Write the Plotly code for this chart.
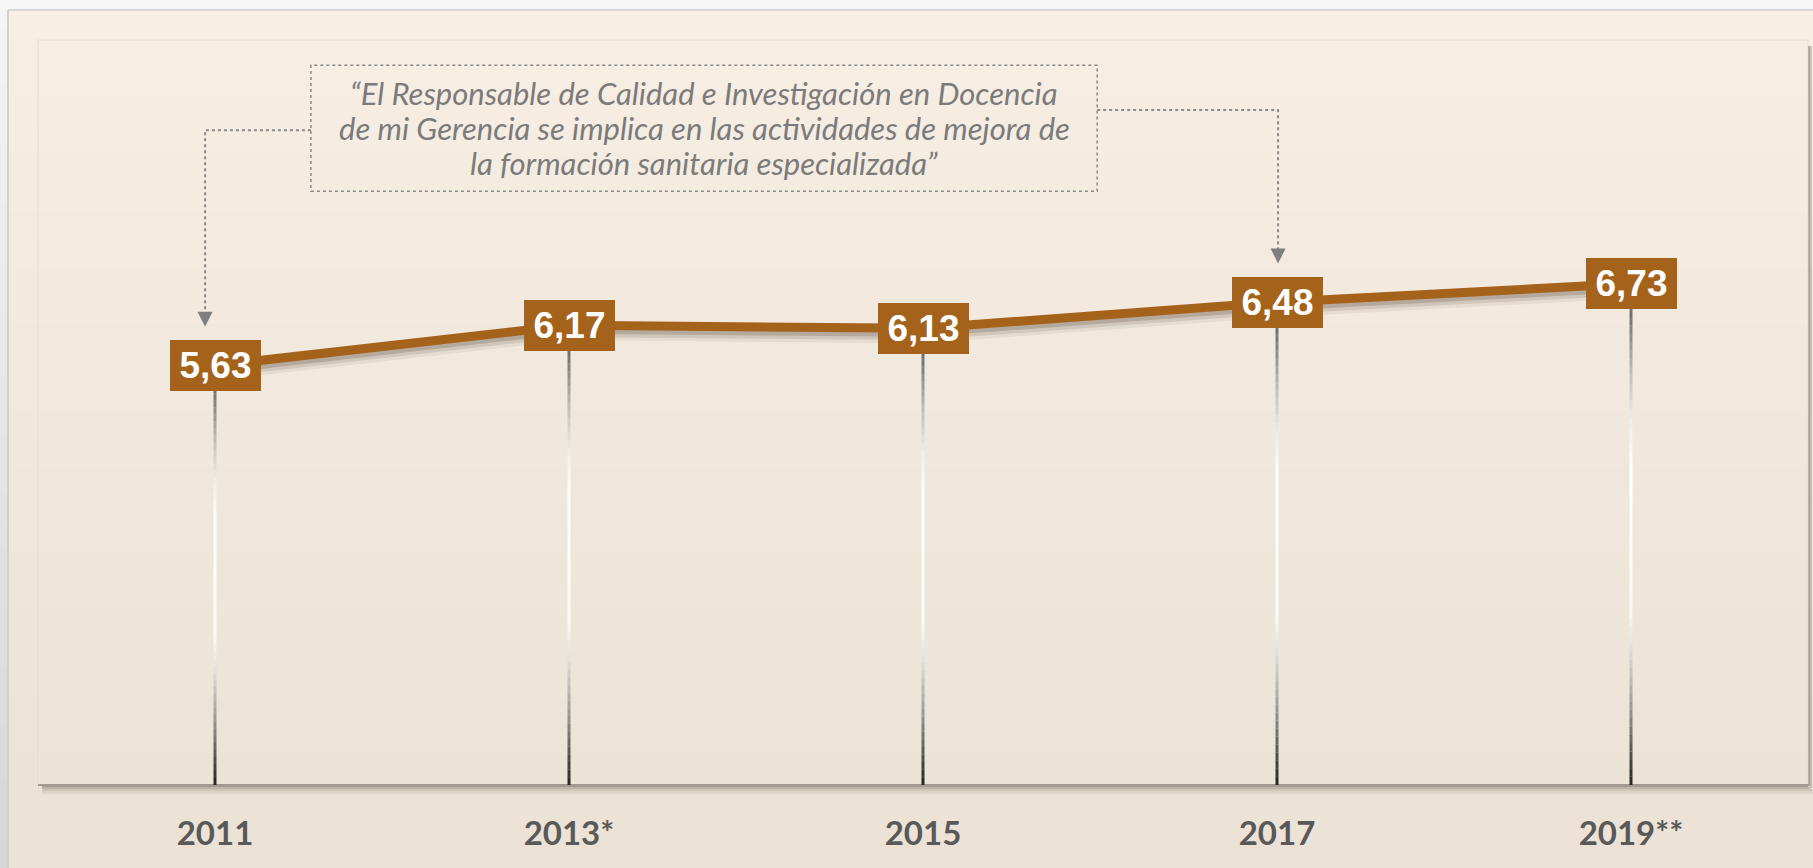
import plotly.graph_objects as go

# ---------------- data ----------------
years = ["2011", "2013*", "2015", "2017", "2019**"]
values = [5.63, 6.17, 6.13, 6.48, 6.73]
value_labels = ["5,63", "6,17", "6,13", "6,48", "6,73"]
quote_lines = [
    "“El Responsable de Calidad e Investigación en Docencia",
    "de mi Gerencia se implica en las actividades de mejora de",
    "la formación sanitaria especializada”",
]
pointed_years = ["2011", "2017"]

# ---------------- layout constants ----------------
W, H = 1813, 868
ML, MR, MT, MB = 38, 5, 40, 83
PW, PH = W - ML - MR, H - MT - MB
BROWN = "#a5621b"
Y_MAX = 10.0
PX_PER_UNIT = PH / Y_MAX

xs = list(range(len(years)))


def px2paper_x(px):
    return (px - ML) / PW


def px2paper_y(py):
    return (H - MB - py) / PH


def lerp(a, b, t):
    return a + (b - a) * t


def hex2rgb(h):
    h = h.lstrip("#")
    return tuple(int(h[i:i + 2], 16) for i in (0, 2, 4))


fig = go.Figure()

# ---------------- gradient stems ----------------
stops = [(0.0, 35), (0.06, 80), (0.15, 150), (0.27, 222), (0.35, 250),
         (0.64, 255), (0.73, 236), (0.83, 185), (0.92, 125), (1.0, 85)]


def gray_at(t):
    for (t0, g0), (t1, g1) in zip(stops[:-1], stops[1:]):
        if t0 <= t <= t1:
            return lerp(g0, g1, (t - t0) / (t1 - t0))
    return stops[-1][1]


N = 60
for k in range(N):
    t = (k + 0.5) / N
    g = int(round(gray_at(t)))
    sx, sy = [], []
    for i, v in zip(xs, values):
        sx += [i, i, None]
        sy += [v * k / N, v * (k + 1.02) / N, None]
    fig.add_trace(go.Scatter(x=sx, y=sy, mode="lines",
                             line=dict(color=f"rgb({g},{g},{g})", width=3),
                             hoverinfo="skip", showlegend=False))

# ---------------- line with soft shadow ----------------
for off, alpha, wdt in [(0.12, 0.07, 12), (0.09, 0.13, 10), (0.06, 0.2, 8)]:
    fig.add_trace(go.Scatter(x=xs, y=[v - off for v in values], mode="lines",
                             line=dict(color=f"rgba(70,55,40,{alpha})", width=wdt),
                             hoverinfo="skip", showlegend=False))
fig.add_trace(go.Scatter(x=xs, y=values, mode="lines",
                         line=dict(color=BROWN, width=9),
                         hoverinfo="skip", showlegend=False))

# ---------------- shapes: background panel ----------------
shapes = []
top_c, bot_c = hex2rgb("#f7eee4"), hex2rgb("#ebe1d5")
band_top, band_bot = 10, H
nb = 30
for b in range(nb):
    y0 = band_top + (band_bot - band_top) * b / nb
    y1 = band_top + (band_bot - band_top) * (b + 1) / nb
    t = (b + 0.5) / nb
    c = tuple(int(round(lerp(top_c[j], bot_c[j], t))) for j in range(3))
    shapes.append(dict(type="rect", xref="paper", yref="paper", layer="below",
                       x0=px2paper_x(8), x1=px2paper_x(W + 2),
                       y0=px2paper_y(y1 + 0.5), y1=px2paper_y(y0),
                       fillcolor=f"rgb{c}", line=dict(width=0)))
# left grey strip (gradient light -> darker downwards)
lt, lb = hex2rgb("#f4f4f4"), hex2rgb("#d6d6d6")
for b in range(nb):
    y0 = b * H / nb
    y1 = (b + 1) * H / nb
    t = (b + 0.5) / nb
    c = tuple(int(round(lerp(lt[j], lb[j], t))) for j in range(3))
    shapes.append(dict(type="rect", xref="paper", yref="paper", layer="below",
                       x0=px2paper_x(-2), x1=px2paper_x(7),
                       y0=px2paper_y(y1 + 0.5), y1=px2paper_y(max(y0, 10)),
                       fillcolor=f"rgb{c}", line=dict(width=0)))
# outer frame edges
shapes.append(dict(type="line", xref="paper", yref="paper", layer="below",
                   x0=px2paper_x(8), x1=px2paper_x(W + 2),
                   y0=px2paper_y(10), y1=px2paper_y(10),
                   line=dict(color="#d6d6d6", width=2)))
shapes.append(dict(type="line", xref="paper", yref="paper", layer="below",
                   x0=px2paper_x(8), x1=px2paper_x(8),
                   y0=px2paper_y(10), y1=px2paper_y(H + 2),
                   line=dict(color="#d0d0d0", width=2)))

# plot-area shadows (right and bottom)
for d, a in [(1, 0.45), (3, 0.30), (5, 0.18), (7, 0.10), (9, 0.05)]:
    shapes.append(dict(type="line", xref="paper", yref="paper", layer="below",
                       x0=px2paper_x(ML + 4), x1=px2paper_x(W - MR + d - 1),
                       y0=px2paper_y(H - MB + d), y1=px2paper_y(H - MB + d),
                       line=dict(color=f"rgba(80,70,60,{a})", width=2)))
for d, a in [(1, 0.45), (3, 0.25)]:
    shapes.append(dict(type="line", xref="paper", yref="paper", layer="below",
                       x0=px2paper_x(W - MR + d), x1=px2paper_x(W - MR + d),
                       y0=px2paper_y(MT + 6), y1=px2paper_y(H - MB + d),
                       line=dict(color=f"rgba(80,70,60,{a})", width=2)))
# plot area faint outline
shapes.append(dict(type="rect", xref="paper", yref="paper", layer="below",
                   x0=0, x1=1, y0=0, y1=1,
                   line=dict(color="rgba(225,213,200,0.7)", width=1)))
shapes.append(dict(type="line", xref="paper", yref="paper", layer="below",
                   x0=0, x1=1, y0=0, y1=0,
                   line=dict(color="#a29a90", width=2)))

# ---------------- callout box and connectors (data coordinates) ----------------
box_x0, box_x1, box_y0, box_y1 = 0.271, 2.492, 7.97, 9.66
dot_line = dict(color="#8a8a8a", width=2, dash="dot")
shapes.append(dict(type="rect", xref="x", yref="y", x0=box_x0, x1=box_x1,
                   y0=box_y0, y1=box_y1, line=dict(color="#8a8a8a", width=1.5, dash="dot")))

tip_gap = 0.52
i_left = years.index(pointed_years[0])
i_right = years.index(pointed_years[1])
left_x = i_left - 0.028
right_x = i_right + 0.003
left_tip = values[i_left] + tip_gap
right_tip = values[i_right] + tip_gap
conn_left_y, conn_right_y = 8.79, 9.06
shapes.append(dict(type="path", xref="x", yref="y",
                   path=f"M {box_x0},{conn_left_y} L {left_x},{conn_left_y} L {left_x},{left_tip + 0.18}",
                   line=dot_line))
shapes.append(dict(type="path", xref="x", yref="y",
                   path=f"M {box_x1},{conn_right_y} L {right_x},{conn_right_y} L {right_x},{right_tip + 0.18}",
                   line=dot_line))

annotations = []
for ax_x, tip in [(left_x, left_tip), (right_x, right_tip)]:
    annotations.append(dict(x=ax_x, y=tip, xref="x", yref="y", text="",
                            showarrow=True, arrowhead=2, arrowsize=1.5, arrowwidth=2,
                            arrowcolor="#7f7f7f", ax=0, ay=-16))

# quote text, one annotation per line (35 px line pitch)
line_pitch = 35 / PX_PER_UNIT
mid_y = (box_y0 + box_y1) / 2
for j, line in enumerate(quote_lines):
    annotations.append(dict(x=(box_x0 + box_x1) / 2,
                            y=mid_y + (1 - j) * line_pitch,
                            xref="x", yref="y", showarrow=False, align="center",
                            text=line,
                            font=dict(family="Lato", size=31, color="#7b7b7b",
                                      style="italic", weight="normal")))

# ---------------- value label boxes ----------------
for i, v, lab in zip(xs, values, value_labels):
    annotations.append(dict(x=i, y=v, xref="x", yref="y", showarrow=False,
                            text=lab, bgcolor=BROWN, width=87, height=47,
                            borderpad=2, borderwidth=0, align="center", valign="middle",
                            font=dict(family="Liberation Sans, Arial", size=37,
                                      color="white", weight="bold")))

fig.update_layout(
    width=W, height=H,
    margin=dict(l=ML, r=MR, t=MT, b=MB),
    paper_bgcolor="#f6f6f6",
    plot_bgcolor="rgba(0,0,0,0)",
    showlegend=False,
    shapes=shapes,
    annotations=annotations,
    xaxis=dict(range=[-0.5, len(years) - 0.5], tickmode="array", tickvals=xs,
               ticktext=years, showgrid=False, zeroline=False, showline=False,
               ticks="", ticklabelstandoff=26,
               tickfont=dict(family="Lato", size=33, color="#595959", weight="bold"),
               fixedrange=True),
    yaxis=dict(range=[0, Y_MAX], showgrid=False, zeroline=False, showline=False,
               showticklabels=False, ticks="", fixedrange=True),
)

fig.write_html("out.html", config={"displayModeBar": False},
               post_script="document.body.style.margin='0';document.body.style.overflow='hidden';")
